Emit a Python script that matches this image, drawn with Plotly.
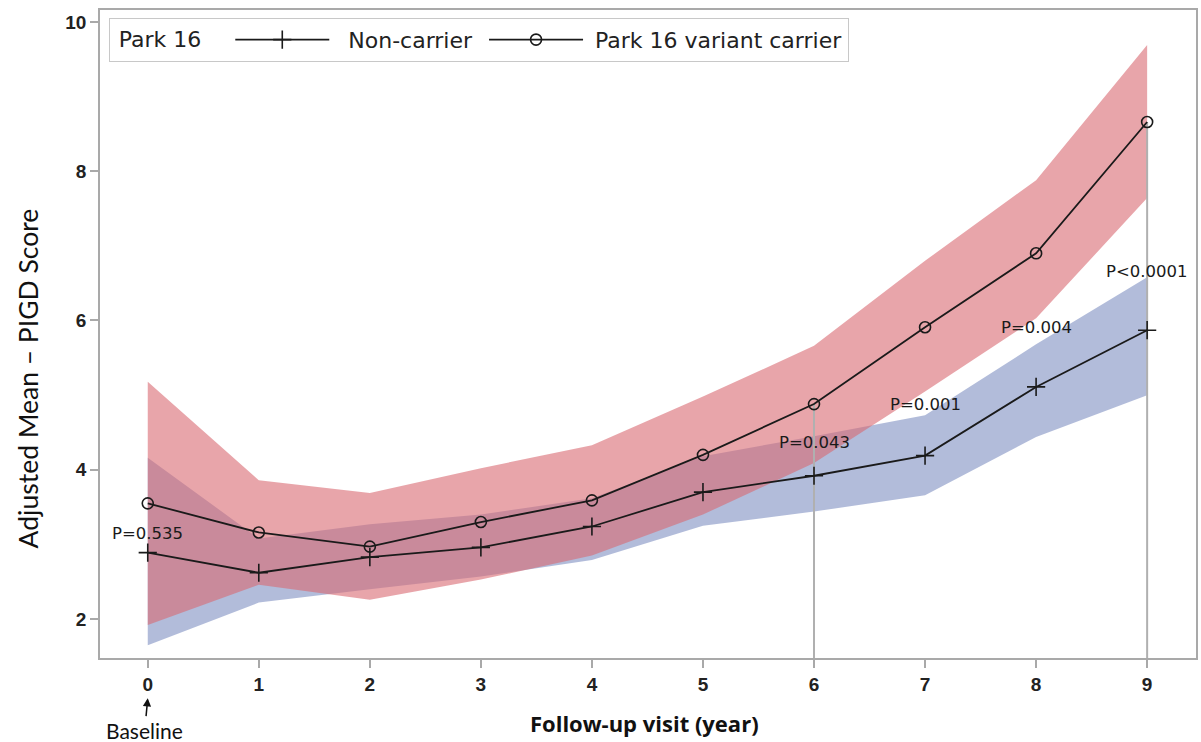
import plotly.graph_objects as go

# ---- data ----
visits = [0, 1, 2, 3, 4, 5, 6, 7, 8, 9]
tick_labels = ["0", "1", "2", "3", "4", "5", "6", "7", "8", "9"]

noncarrier_mean = [2.89, 2.62, 2.83, 2.96, 3.24, 3.70, 3.92, 4.19, 5.11, 5.87]
noncarrier_upper = [4.16, 3.08, 3.27, 3.40, 3.62, 4.18, 4.45, 4.73, 5.68, 6.58]
noncarrier_lower = [1.65, 2.22, 2.40, 2.57, 2.79, 3.25, 3.44, 3.66, 4.44, 5.00]

carrier_mean = [3.55, 3.16, 2.97, 3.30, 3.59, 4.20, 4.88, 5.91, 6.90, 8.66]
carrier_upper = [5.18, 3.86, 3.69, 4.02, 4.33, 4.98, 5.66, 6.80, 7.88, 9.69]
carrier_lower = [1.92, 2.46, 2.26, 2.53, 2.85, 3.40, 4.09, 5.05, 6.03, 7.64]

p_visits = [0, 6, 7, 8, 9]
p_labels = ["P=0.535", "P=0.043", "P=0.001", "P=0.004", "P<0.0001"]
p_label_y = [3.15, 4.37, 4.88, 5.90, 6.66]

droplines_at = [6, 9]

y_range = [1.478, 10.16]
x_range = [-0.43, 9.44]

# ---- styles ----
RED = "rgba(217,105,113,0.6)"
BLUE = "rgba(127,143,193,0.6)"
AXIS_GRAY = "#a9a9a9"
TICK_FONT = dict(family="Liberation Sans, Arial", size=19, color="#222222", weight="bold")
NB = "\u00a0"

fig = go.Figure()

# bands
fig.add_trace(go.Scatter(
    x=visits + visits[::-1], y=noncarrier_upper + noncarrier_lower[::-1],
    fill="toself", fillcolor=BLUE, line=dict(width=0), mode="lines",
    showlegend=False, hoverinfo="skip"))
fig.add_trace(go.Scatter(
    x=visits + visits[::-1], y=carrier_upper + carrier_lower[::-1],
    fill="toself", fillcolor=RED, line=dict(width=0), mode="lines",
    showlegend=False, hoverinfo="skip"))

# droplines at visits with reference lines
for v in droplines_at:
    fig.add_trace(go.Scatter(
        x=[v, v], y=[y_range[0], carrier_mean[visits.index(v)]],
        mode="lines", line=dict(color="#b0b0b0", width=2),
        showlegend=False, hoverinfo="skip"))

# mean lines
fig.add_trace(go.Scatter(
    x=visits, y=noncarrier_mean, mode="lines+markers",
    name=NB * 2 + "Non-carrier" + NB,
    line=dict(color="#1a1a1a", width=1.8),
    marker=dict(symbol="cross-thin", size=13, color="#1a1a1a",
                line=dict(width=1.6, color="#1a1a1a"))))
fig.add_trace(go.Scatter(
    x=visits, y=carrier_mean, mode="lines+markers",
    name=NB + "Park 16 variant carrier",
    line=dict(color="#1a1a1a", width=1.8),
    marker=dict(symbol="circle-open", size=11, color="#1a1a1a",
                line=dict(width=1.6, color="#1a1a1a"))))

# p-value labels
for xv, lab, yv in zip(p_visits, p_labels, p_label_y):
    fig.add_annotation(x=xv, y=yv, text=lab, showarrow=False,
                       font=dict(family="DejaVu Sans", size=16.5, color="#1a1a1a"),
                       xanchor="center", yanchor="middle")

# Y title
fig.add_annotation(xref="paper", yref="paper", x=-0.066, y=0.431,
                   text="Adjusted Mean \u2013 PIGD Score", textangle=-90,
                   showarrow=False, font=dict(family="Lato", size=26.5, color="#111111"),
                   xanchor="center", yanchor="middle")
# X title
fig.add_annotation(xref="paper", yref="paper", x=0.497, y=-0.100,
                   text="<b>Follow-up visit (year)</b>", showarrow=False,
                   font=dict(family="Open Sans", size=22, color="#111111"),
                   xanchor="center", yanchor="middle")
# Baseline arrow
fig.add_annotation(x=0, xref="x", yref="paper", y=-0.062,
                   text="Baseline", showarrow=True, arrowhead=2, arrowsize=1.1,
                   arrowwidth=1.5, arrowcolor="#111111", ax=-3, ay=32,
                   font=dict(family="Lato", size=21, color="#111111"))

fig.update_layout(
    width=1201, height=742,
    margin=dict(l=100, r=3, t=10, b=84),
    paper_bgcolor="white", plot_bgcolor="white",
    showlegend=True,
    legend=dict(
        orientation="h", x=0.008, y=0.988, xanchor="left", yanchor="top",
        bgcolor="white", bordercolor="#c8c8c8", borderwidth=1,
        font=dict(family="DejaVu Sans", size=22, color="#222222"),
        title=dict(text=NB + "Park 16" + NB * 3, side="left",
                   font=dict(family="DejaVu Sans", size=22, color="#222222")),
        itemwidth=94, tracegroupgap=0,
    ),
    xaxis=dict(range=x_range, tickmode="array", tickvals=visits, ticktext=tick_labels,
               showgrid=False, zeroline=False, showline=True, linecolor=AXIS_GRAY,
               linewidth=1.5, mirror=True, ticks="outside", ticklen=8, tickwidth=1.5,
               tickcolor=AXIS_GRAY, tickfont=TICK_FONT),
    yaxis=dict(range=y_range, tickmode="array", tickvals=[2, 4, 6, 8, 10],
               showgrid=False, zeroline=False, showline=True, linecolor=AXIS_GRAY,
               linewidth=1.5, mirror=True, ticks="outside", ticklen=8, tickwidth=1.5,
               tickcolor=AXIS_GRAY, tickfont=TICK_FONT),
)

fig.write_html("out.html", config={"displayModeBar": False},
               post_script="document.body.style.margin='0';")
